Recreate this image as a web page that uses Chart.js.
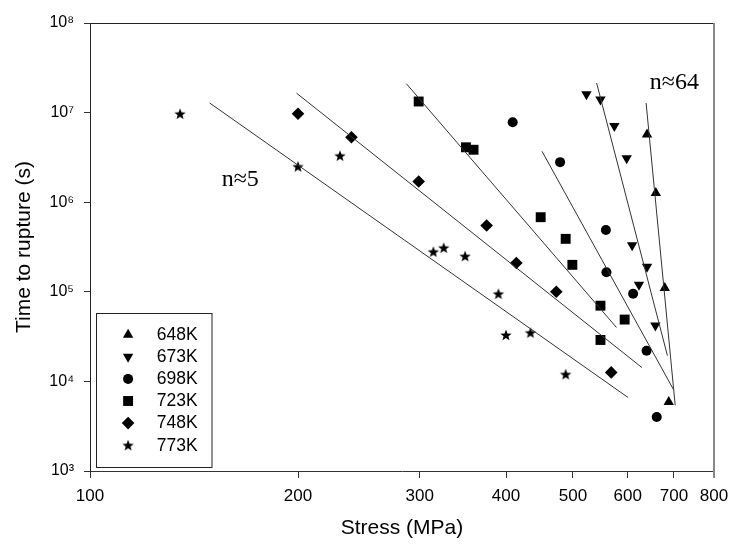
<!DOCTYPE html>
<html><head><meta charset="utf-8">
<script src="https://cdn.jsdelivr.net/npm/chart.js@4/dist/chart.umd.min.js"></script>
<style>html,body{margin:0;padding:0;background:#fff}canvas{display:block}</style>
</head><body>
<canvas id="c" width="731" height="545"></canvas>
<script>
// ---- data ----
const seriesLabels = ['648K', '673K', '698K', '723K', '748K', '773K'];

const stress648 = [640, 659, 679, 688];
const time648   = [5.7e6, 1.27e6, 1.1e5, 5.9e3];

const stress673 = [523, 548, 574, 598, 609, 623, 640, 658];
const time673   = [1.6e7, 1.4e7, 7.1e6, 3.1e6, 3.3e5, 1.2e5, 1.9e5, 4.2e4];

const stress698 = [409, 479, 558, 559, 611, 639, 661];
const time698   = [7.8e6, 2.8e6, 4.9e5, 1.65e5, 9.5e4, 2.2e4, 4.0e3];

const stress723 = [299, 350, 359, 449, 488, 499, 548, 594, 548];
const time723   = [1.33e7, 4.1e6, 3.85e6, 6.8e5, 3.9e5, 2.0e5, 7.0e4, 4.9e4, 2.9e4];

const stress748 = [200, 239, 299, 375, 414, 473, 568];
const time748   = [9.7e6, 5.3e6, 1.7e6, 5.5e5, 2.1e5, 1.0e5, 1.26e4];

const stress773 = [135, 200, 230, 314, 325, 349, 390, 400, 434, 488];
const time773   = [9.7e6, 2.5e6, 3.3e6, 2.8e5, 3.1e5, 2.5e5, 9.5e4, 3.3e4, 3.5e4, 1.2e4];

// fitted lines (end points)
const fitStress648 = [638, 703];  const fitTime648 = [1.28e7, 5.4e3];
const fitStress673 = [541, 685];  const fitTime673 = [2.14e7, 1.94e4];
const fitStress698 = [451, 699];  const fitTime698 = [3.7e6, 8.1e3];
const fitStress723 = [287, 578];  const fitTime723 = [2.1e7, 4.0e4];
const fitStress748 = [199, 629];  const fitTime748 = [1.65e7, 1.43e4];
const fitStress773 = [149, 601];  const fitTime773 = [1.28e7, 6.6e3];

const xTickValues = [100, 200, 300, 400, 500, 600, 700, 800];
const xTickLabels = ['100', '200', '300', '400', '500', '600', '700', '800'];
const yTickValues = [1e3, 1e4, 1e5, 1e6, 1e7, 1e8];
const yTickLabels = ['10\u00B3', '10\u2074', '10\u2075', '10\u2076', '10\u2077', '10\u2078'];

const annotationTexts  = ['n\u22485', 'n\u224864'];
const annotationStress = [165, 701];
const annotationTime   = [1.78e6, 2.18e7];

// ---- helpers ----
function pts(xs, ys) { return xs.map((x, i) => ({ x: x, y: ys[i] })); }
function makeStar(r) {
  const s = Math.ceil(r * 2) + 2;
  const c = document.createElement('canvas');
  c.width = s; c.height = s;
  const g = c.getContext('2d');
  g.fillStyle = '#000';
  g.beginPath();
  for (let i = 0; i < 10; i++) {
    const a = -Math.PI / 2 + i * Math.PI / 5;
    const rr = (i % 2) ? r * 0.42 : r;
    g.lineTo(s / 2 + rr * Math.cos(a), s / 2 + rr * Math.sin(a) + 0.5);
  }
  g.closePath(); g.fill();
  return c;
}
const starImg = makeStar(6);

function markerSet(label, data, style, radius, rotation) {
  return {
    label: label, data: data, pointStyle: style, pointRadius: radius,
    pointHoverRadius: radius, pointRotation: rotation || 0,
    pointBackgroundColor: '#000', pointBorderColor: '#000', pointBorderWidth: 0,
    showLine: false, isMarker: true
  };
}
function fitSet(label, data) {
  return {
    label: label, data: data, showLine: true, pointRadius: 0,
    borderColor: '#333', borderWidth: 1, isMarker: false
  };
}

const datasets = [
  fitSet('fit648', pts(fitStress648, fitTime648)),
  fitSet('fit673', pts(fitStress673, fitTime673)),
  fitSet('fit698', pts(fitStress698, fitTime698)),
  fitSet('fit723', pts(fitStress723, fitTime723)),
  fitSet('fit748', pts(fitStress748, fitTime748)),
  fitSet('fit773', pts(fitStress773, fitTime773)),
  markerSet(seriesLabels[0], pts(stress648, time648), 'triangle', 6, 0),
  markerSet(seriesLabels[1], pts(stress673, time673), 'triangle', 6, 180),
  markerSet(seriesLabels[2], pts(stress698, time698), 'circle', 5, 0),
  markerSet(seriesLabels[3], pts(stress723, time723), 'rect', 7, 0),
  markerSet(seriesLabels[4], pts(stress748, time748), 'rectRot', 6.3, 0),
  markerSet(seriesLabels[5], pts(stress773, time773), starImg, 6, 0)
];

const FONT = "'Liberation Sans', Arial, sans-serif";

const framePlugin = {
  id: 'frame',
  afterDatasetsDraw(chart) {
    const ctx = chart.ctx, a = chart.chartArea;
    ctx.save();
    ctx.strokeStyle = '#222'; ctx.lineWidth = 1;
    ctx.beginPath(); ctx.moveTo(a.left, a.top + 0.5); ctx.lineTo(a.right, a.top + 0.5); ctx.stroke();
    ctx.strokeStyle = '#888'; ctx.lineWidth = 2;
    ctx.beginPath(); ctx.moveTo(a.right, a.top); ctx.lineTo(a.right, a.bottom + 7); ctx.stroke();
    ctx.restore();
  }
};

const annotPlugin = {
  id: 'annot',
  afterDatasetsDraw(chart) {
    const ctx = chart.ctx, xs = chart.scales.x, ys = chart.scales.y;
    ctx.save();
    ctx.fillStyle = '#000';
    ctx.font = "24px 'Liberation Serif', 'Times New Roman', serif";
    ctx.textAlign = 'center'; ctx.textBaseline = 'middle';
    annotationTexts.forEach((t, i) => {
      ctx.fillText(t, xs.getPixelForValue(annotationStress[i]), ys.getPixelForValue(annotationTime[i]));
    });
    ctx.restore();
  }
};

const legendPlugin = {
  id: 'boxLegend',
  afterDraw(chart) {
    const ctx = chart.ctx, a = chart.chartArea;
    const boxL = a.left + 5.5, boxB = a.bottom - 4, boxW = 115.5, boxH = 154;
    const boxT = boxB - boxH;
    ctx.save();
    ctx.strokeStyle = '#222'; ctx.lineWidth = 1;
    ctx.strokeRect(Math.round(boxL) + 0.5, Math.round(boxT) + 0.5, boxW, boxH);
    const markers = chart.data.datasets.filter(d => d.isMarker);
    markers.forEach((d, i) => {
      const cy = boxT + 21.7 + i * 22.1;
      const cx = boxL + 32.6;
      ctx.fillStyle = '#000'; ctx.strokeStyle = '#000'; ctx.lineWidth = 0.01;
      if (Chart.helpers && Chart.helpers.drawPoint) {
        Chart.helpers.drawPoint(ctx, { pointStyle: d.pointStyle, rotation: d.pointRotation, radius: d.pointRadius, borderWidth: 0 }, cx, cy);
      }
      ctx.fillStyle = '#000';
      ctx.font = '17.5px ' + FONT;
      ctx.textAlign = 'left'; ctx.textBaseline = 'middle';
      ctx.fillText(d.label, boxL + 61.3, cy + 0.5);
    });
    ctx.restore();
  }
};

new Chart(document.getElementById('c'), {
  type: 'scatter',
  data: { datasets: datasets },
  options: {
    responsive: false,
    animation: false,
    devicePixelRatio: 1,
    layout: { padding: { top: 23, right: 17, bottom: 0, left: 0 } },
    plugins: { legend: { display: false }, tooltip: { enabled: false } },
    scales: {
      x: {
        type: 'logarithmic', position: 'bottom', min: 100, max: 800,
        afterBuildTicks: s => { s.ticks = xTickValues.map(v => ({ value: v })); },
        afterFit: s => { s.height = 74; s.paddingRight = 10; s.paddingLeft = 0; },
        ticks: {
          autoSkip: false, maxRotation: 0, minRotation: 0, padding: 8, color: '#000',
          font: { family: FONT, size: 17 },
          callback: (v, i) => xTickLabels[i]
        },
        grid: { drawOnChartArea: false, drawTicks: true, tickLength: 7, color: '#333' },
        border: { display: true, color: '#333', width: 1 },
        title: { display: true, text: 'Stress (MPa)', color: '#000', font: { family: FONT, size: 21 }, padding: { top: 0, bottom: 4 } }
      },
      y: {
        type: 'logarithmic', position: 'left', min: 1e3, max: 1e8,
        afterBuildTicks: s => { s.ticks = yTickValues.map(v => ({ value: v })); },
        afterFit: s => { s.width = 90; s.paddingTop = 0; s.paddingBottom = 0; },
        ticks: {
          autoSkip: false, padding: 10, color: '#000',
          font: { family: FONT, size: 16 },
          callback: (v, i) => yTickLabels[i]
        },
        grid: { drawOnChartArea: false, drawTicks: true, tickLength: 6, color: '#333' },
        border: { display: true, color: '#222', width: 1 },
        title: { display: true, text: 'Time to rupture (s)', color: '#000', font: { family: FONT, size: 21 }, padding: { top: 12, bottom: 0 } }
      }
    }
  },
  plugins: [framePlugin, annotPlugin, legendPlugin]
});
</script>
</body></html>
